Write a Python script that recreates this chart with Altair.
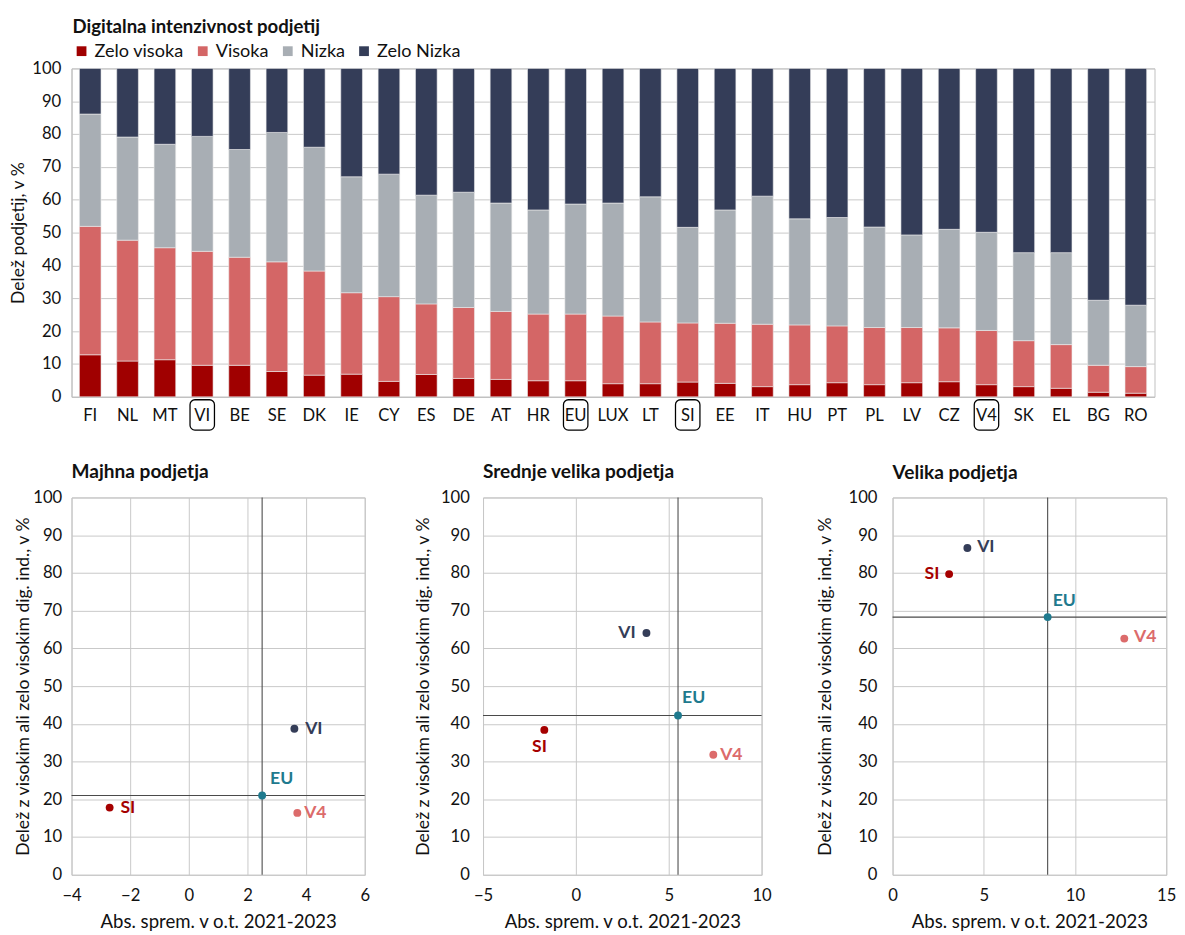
import altair as alt
import pandas as pd

# ---------------- data ----------------
countries = ["FI", "NL", "MT", "VI", "BE", "SE", "DK", "IE", "CY", "ES", "DE", "AT", "HR", "EU",
             "LUX", "LT", "SI", "EE", "IT", "HU", "PT", "PL", "LV", "CZ", "V4", "SK", "EL", "BG", "RO"]
zelo_visoka = [12.8, 10.9, 11.3, 9.6, 9.6, 7.7, 6.6, 6.9, 4.7, 6.8, 5.6, 5.3, 4.9, 4.9,
               4.0, 4.0, 4.5, 4.1, 3.1, 3.7, 4.3, 3.7, 4.3, 4.6, 3.7, 3.1, 2.6, 1.4, 1.1]
visoka = [39.1, 36.8, 34.1, 34.7, 32.9, 33.4, 31.7, 24.8, 25.8, 21.5, 21.6, 20.7, 20.3, 20.3,
          20.6, 18.8, 18.0, 18.3, 19.0, 18.2, 17.3, 17.4, 16.8, 16.4, 16.5, 14.0, 13.3, 8.2, 8.1]
nizka = [34.2, 31.4, 31.5, 35.0, 32.8, 39.4, 37.7, 35.3, 37.3, 33.1, 35.1, 33.0, 31.7, 33.5,
         34.4, 38.1, 29.1, 34.5, 39.0, 32.3, 33.0, 30.6, 28.2, 30.0, 29.9, 26.8, 28.0, 19.8, 18.7]
zelo_nizka = [13.9, 20.9, 23.1, 20.7, 24.7, 19.5, 24.0, 33.0, 32.2, 38.6, 37.7, 41.0, 43.1, 41.3,
              41.0, 39.1, 48.4, 43.1, 38.9, 45.8, 45.4, 48.3, 50.7, 49.0, 49.9, 56.1, 56.1, 70.6, 72.1]
categories = ["Zelo visoka", "Visoka", "Nizka", "Zelo Nizka"]
boxed = ["VI", "EU", "SI", "V4"]

groups = ["SI", "VI", "EU", "V4"]
small_x = [-2.7, 3.6, 2.5, 3.7]
small_y = [17.8, 38.7, 21.0, 16.4]
medium_x = [-1.7, 3.8, 5.5, 7.4]
medium_y = [38.4, 64.1, 42.2, 31.8]
large_x = [3.1, 4.1, 8.5, 12.7]
large_y = [79.7, 86.6, 68.3, 62.6]

# ---------------- styles ----------------
cat_colors = ["#A00000", "#D46666", "#A8AEB4", "#343D58"]
group_colors = {"SI": "#A50000", "VI": "#343D58", "EU": "#1F7A8E", "V4": "#DC6B6B"}
FONT = "Lato"
GRID = "#C8C8C8"

# ---------------- top chart ----------------
rows = []
for i, c in enumerate(countries):
    for k, arr in enumerate([zelo_visoka, visoka, nizka, zelo_nizka]):
        rows.append({"country": c, "cat": categories[k], "val": arr[i], "ord": k})
bar_df = pd.DataFrame(rows)

x_scale = alt.Scale(domain=countries, paddingInner=0.42, paddingOuter=0.21)
x_axis = alt.Axis(title=None, labelAngle=0, labelFontSize=17, labelPadding=11, ticks=False,
                  domainColor="#BFBFBF", grid=False, labelColor="#111")

bars = alt.Chart(bar_df).mark_bar(stroke="#EDEDED", strokeWidth=0.6).encode(
    x=alt.X("country:N", sort=countries, scale=x_scale, axis=x_axis),
    y=alt.Y("val:Q", stack="zero", scale=alt.Scale(domain=[0, 100], nice=False),
            axis=alt.Axis(values=list(range(0, 101, 10)), title="Delež podjetij, v %",
                          titleFontSize=18, titleFontWeight="normal", titlePadding=5,
                          labelFontSize=17, labelPadding=11, ticks=False,
                          domainColor="#BFBFBF", gridColor=GRID)),
    color=alt.Color("cat:N", scale=alt.Scale(domain=categories, range=cat_colors),
                    legend=alt.Legend(title="Digitalna intenzivnost podjetij", titleOrient="top",
                                      titleFontSize=19, titleFontWeight="bold", titlePadding=5,
                                      titleColor="#111", titleAnchor="start", titleLimit=900,
                                      orient="none", legendX=1, legendY=-51,
                                      direction="horizontal", symbolType="square",
                                      symbolSize=100, symbolStrokeWidth=0, labelFontSize=18.5,
                                      labelOffset=4, columnPadding=10)),
    order=alt.Order("ord:Q", sort="ascending"),
)

box_df = pd.DataFrame({"country": boxed})
boxes = alt.Chart(box_df).mark_bar(width=25, cornerRadius=5, fillOpacity=0, fill="white",
                                   stroke="black", strokeWidth=1.3).encode(
    x=alt.X("country:N", sort=countries, scale=x_scale, axis=x_axis),
    y=alt.value(339),
    y2=alt.value(370),
)

top = alt.layer(bars, boxes).properties(width=1108, height=336)

# ---------------- scatter panels ----------------
label_pos = {
    "small": {"SI": (11, 0, "left"), "VI": (11, 0, "left"), "EU": (20, -17, "center"), "V4": (7, 0, "left")},
    "medium": {"SI": (-5, 18, "center"), "VI": (-11, 0, "right"), "EU": (16, -18, "center"), "V4": (7, 0, "left")},
    "large": {"SI": (-10, 0, "right"), "VI": (10, -1, "left"), "EU": (17, -16, "center"), "V4": (10, -2, "left")},
}


def scatter(title, key, xs, ys, xdom, xstep, width, height, toffset, ytpad, ylpad):
    df = pd.DataFrame({"g": groups, "x": xs, "y": ys})
    xenc = alt.X("x:Q", scale=alt.Scale(domain=xdom, nice=False),
                 axis=alt.Axis(values=list(range(xdom[0], xdom[1] + 1, xstep)),
                               title="Abs. sprem. v o.t. 2021-2023", titleFontSize=19,
                               titleFontWeight="normal", titlePadding=10,
                               labelFontSize=17, labelPadding=13, ticks=False,
                               domain=False, gridColor=GRID, labelFlush=False))
    yenc = alt.Y("y:Q", scale=alt.Scale(domain=[0, 100], nice=False),
                 axis=alt.Axis(values=list(range(0, 101, 10)),
                               title="Delež z visokim ali zelo visokim dig. ind., v %",
                               titleFontSize=18, titleFontWeight="normal", titlePadding=ytpad,
                               labelFontSize=17, labelPadding=ylpad, ticks=False,
                               domain=False, gridColor=GRID, labelFlush=False))
    base = alt.Chart(df)
    eu = base.transform_filter(alt.datum.g == "EU")
    vrule = eu.mark_rule(color="#4A4A4A", strokeWidth=1.1).encode(x=xenc)
    hrule = eu.mark_rule(color="#4A4A4A", strokeWidth=1.1).encode(y=yenc)
    layers = [vrule, hrule]
    for g in groups:
        sub = base.transform_filter(alt.datum.g == g)
        layers.append(sub.mark_circle(size=65, opacity=1, color=group_colors[g]).encode(x=xenc, y=yenc))
    for g in groups:
        dx, dy, al = label_pos[key][g]
        layers.append(base.transform_filter(alt.datum.g == g).mark_text(
            dx=dx, dy=dy, align=al, baseline="middle", fontSize=18, fontWeight="bold",
            color=group_colors[g]).encode(x=xenc, y=yenc, text="g:N"))
    return alt.layer(*layers).properties(
        width=width, height=height,
        title=alt.Title(title, anchor="start", frame="group", fontSize=19.5, fontWeight="bold",
                        offset=toffset),
    )


p1 = scatter("Majhna podjetja", "small", small_x, small_y, [-4, 6], 2, 300, 386, 6, 0, 10)
p2 = scatter("Srednje velika podjetja", "medium", medium_x, medium_y, [-5, 10], 5, 285, 386, 6, 8, 14)
p3 = scatter("Velika podjetja", "large", large_x, large_y, [0, 15], 5, 280, 386, 5, 14, 16)

bottom = alt.hconcat(p1, p2, p3, spacing=44)

chart = alt.vconcat(top, bottom, spacing=31).properties(
    padding={"left": 0, "top": 0, "right": 0, "bottom": 0}
).configure(
    font=FONT,
).configure_view(
    stroke="#BFBFBF", strokeWidth=1,
).configure_axis(
    labelFont=FONT, titleFont=FONT, labelColor="#111", titleColor="#111",
).configure_legend(
    labelFont=FONT, labelColor="#111",
).configure_title(
    font=FONT, color="#111",
)

chart.save("out.html", embed_options={"renderer": "svg", "actions": False})
